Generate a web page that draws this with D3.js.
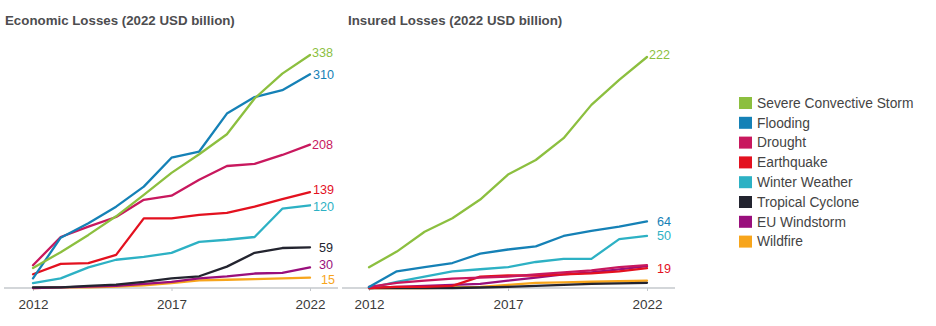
<!DOCTYPE html>
<html><head><meta charset="utf-8">
<script src="https://cdn.jsdelivr.net/npm/d3@7"></script>
<style>
html,body{margin:0;padding:0;background:#fff;}
svg{display:block;font-family:"Liberation Sans",Arial,sans-serif;}
</style></head>
<body>
<svg id="c" width="936" height="326"></svg>
<script>
const years = [2012,2013,2014,2015,2016,2017,2018,2019,2020,2021,2022];
const perils = ["Severe Convective Storm","Flooding","Drought","Earthquake","Winter Weather","Tropical Cyclone","EU Windstorm","Wildfire"];
const colors = ["#8cbf3f","#1581b6","#c8185e","#e3111f","#2db1c4","#23242f","#990f7c","#f7a51c"];
const tickYears = [2012,2017,2022];

// Economic losses (2022 USD billion), cumulative
const econSCS   = [29,52,77,104,135,167,194,223,275,311,338];
const econFlood = [14,73,94,118,147,189,198,253,277,287,310];
const econDrought = [33,74,89,103,128,134,157,177,180,193,208];
const econQuake = [20,35,36,48,101,101,106,109,118,129,139];
const econWinter = [7,14,30,41,45,51,67,70,74,115,120];
const econTC = [1,1,3,5,9,14,17,31,51,58,59];
const econEU = [0,1,2,3,6,9,14,17,21,22,30];
const econFire = [0,1,1,2,4,7,11,12,13,14,15];

// Insured losses (2022 USD billion), cumulative
const insSCS = [20,35,54,67,85,109,123,144,176,200,222];
const insFlood = [1,16,20,24,33,37,40,50,55,59,64];
const insDrought = [1,5,7,9,10,11,13,15,17,20,22];
const insQuake = [0,1,1,2,11,12,12,13,14,16,19];
const insWinter = [0,6,11,16,18,20,25,28,28,47,50];
const insTC = [0,0,0,0,0.5,1,2,3,4,4.5,5];
const insEU = [0,1,2,3,4,7,10,13,15,18,21];
const insFire = [0,0,0,0.5,1,3,5,5.5,6,6.5,7];

const econLabels = ["338","310","208","139","120","59","30","15"];
const insLabels  = ["222","64","","19","50","","",""];

const econSeries = [econSCS,econFlood,econDrought,econQuake,econWinter,econTC,econEU,econFire];
const insSeries  = [insSCS,insFlood,insDrought,insQuake,insWinter,insTC,insEU,insFire];

const svg = d3.select("#c");

function panel(cfg){
  const x = d3.scaleLinear().domain([2012,2022]).range([cfg.x0, cfg.x1]);
  const y = d3.scaleLinear().domain([0, cfg.max]).range([288, cfg.top]);
  const g = svg.append("g");
  g.append("text").attr("x", cfg.titleX).attr("y", 25)
    .attr("font-size", 13.3).attr("font-weight", "bold").attr("fill", "#4d4d4f")
    .text(cfg.title);
  // axis
  const ax = g.append("g").attr("transform", "translate(0,288)")
    .call(d3.axisBottom(x).tickValues(tickYears).tickFormat(d3.format("d")).tickSize(3).tickPadding(8));
  ax.select(".domain").remove();
  ax.selectAll("line").attr("stroke", "#c4c8cc");
  ax.selectAll("text").attr("font-size", 13.5).attr("fill", "#3a3a3a")
    .attr("font-family", "Liberation Sans, Arial, sans-serif");
  g.append("line").attr("x1", x(2012) - cfg.padL).attr("x2", x(2022) + cfg.padR)
    .attr("y1", 288).attr("y2", 288).attr("stroke", "#c4c8cc").attr("stroke-width", 1.5);
  const line = d3.line().x((d,i) => x(years[i])).y(d => y(d));
  const order = d3.range(perils.length).reverse();
  order.forEach(k => {
    g.append("path").datum(cfg.series[k]).attr("d", line)
      .attr("fill", "none").attr("stroke", colors[k]).attr("stroke-width", 2.3)
      .attr("stroke-linejoin", "round").attr("stroke-linecap", "round");
  });
  perils.forEach((p,k) => {
    const lab = cfg.labels[k];
    if(!lab) return;
    const v = cfg.series[k][years.length-1];
    g.append("text").attr("x", x(2022) + (lab.length === 3 ? 2 : 9) + (cfg.dx ? cfg.dx[k] : 0))
      .attr("y", y(v) + (cfg.dy ? cfg.dy[k] : 0)).attr("dy", "0.35em")
      .attr("font-size", 12.6).attr("fill", colors[k]).text(lab);
  });
}

panel({x0:33, x1:310, max:338, top:55, title:"Economic Losses (2022 USD billion)", titleX:5,
  padL:29, padR:28, series:econSeries, labels:econLabels,
  dy:[-2,0,0,-2.5,1,0,-2.5,2.2], dx:[0,1,0,1,1,0,0,2]});
panel({x0:369, x1:647, max:222, top:57, title:"Insured Losses (2022 USD billion)", titleX:348,
  padL:27, padR:28, series:insSeries, labels:insLabels,
  dy:[-2,0,0,0,0,0,0,0], dx:[0,1,0,1,1,0,0,0]});

// legend
const lg = svg.append("g");
perils.forEach((p,k) => {
  const yy = 103 + k*19.8;
  lg.append("rect").attr("x", 739).attr("y", yy - 6).attr("width", 13).attr("height", 12).attr("fill", colors[k]);
  lg.append("text").attr("x", 757).attr("y", yy).attr("dy", "0.35em")
    .attr("font-size", 13.8).attr("fill", "#444").text(p);
});
</script>
</body></html>
